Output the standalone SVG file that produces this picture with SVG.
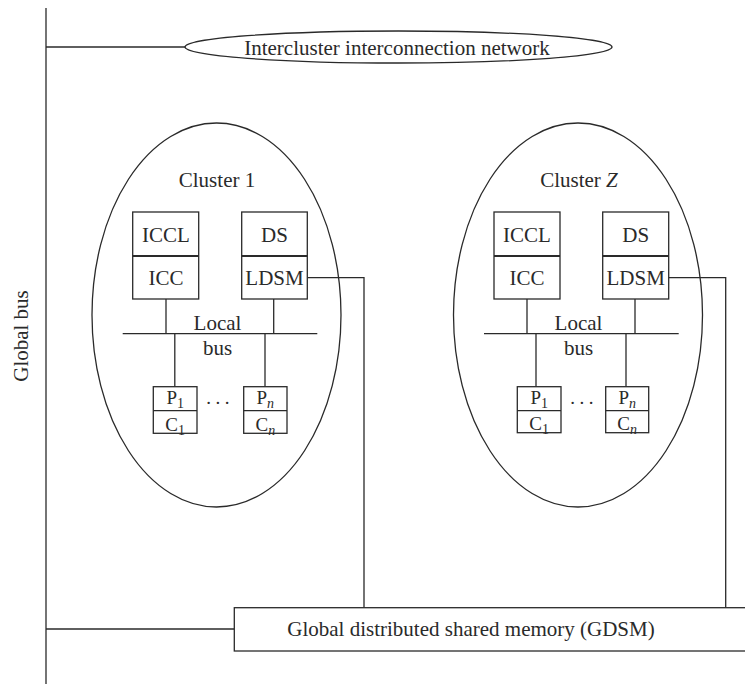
<svg xmlns="http://www.w3.org/2000/svg" width="745" height="684" viewBox="0 0 745 684" font-family="'Liberation Serif', 'Times New Roman', serif">
<style>
.ln{stroke:#2a2a2a;stroke-width:1.3;fill:none}
.bx{stroke:#2a2a2a;stroke-width:1.3;fill:#fff}
.dv{stroke:#2a2a2a;stroke-width:2.2}
text{font-family:'Liberation Serif','Times New Roman',serif;fill:#2a2a2a;text-anchor:middle}
.t20{font-size:21px}
.t18{font-size:19px}
.sub{font-size:14px}
.it{font-style:italic}
</style>
<rect width="745" height="684" fill="#fff"/>
<g id="connectors">
<line class="ln" x1="46" y1="8" x2="46" y2="684"/>
<line class="ln" x1="46" y1="47" x2="185" y2="47"/>
<line class="ln" x1="46" y1="629" x2="234" y2="629"/>
<polyline class="ln" points="307.5,277.7 364,277.7 364,607.7"/>
<polyline class="ln" points="669,277.7 725.7,277.7 725.7,607.7"/>
</g>
<g id="global-bus-label">
<text class="t20" transform="translate(28,336) rotate(-90)">Global bus</text>
</g>
<g id="intercluster">
<ellipse class="ln" cx="398.5" cy="47" rx="213.5" ry="16"/>
<text class="t20" x="397" y="55">Intercluster interconnection network</text>
</g>
<g id="cluster1">
<ellipse class="ln" cx="216.5" cy="315" rx="124.5" ry="192"/>
<text class="t20" x="217" y="187">Cluster 1</text>
<g id="c1-icc">
<rect class="bx" x="132.7" y="212" width="66" height="87"/>
<line class="dv" x1="132.7" y1="256" x2="198.7" y2="256"/>
<text class="t20" x="166" y="242">ICCL</text>
<text class="t20" x="166" y="285">ICC</text>
</g>
<g id="c1-ldsm">
<rect class="bx" x="241.7" y="212" width="65.6" height="87"/>
<line class="dv" x1="241.7" y1="256" x2="307.3" y2="256"/>
<text class="t20" x="274.5" y="242">DS</text>
<text class="t20" x="274.5" y="285">LDSM</text>
</g>
<g id="c1-bus">
<line class="ln" x1="122.7" y1="333.7" x2="317.3" y2="333.7"/>
<line class="ln" x1="166" y1="299" x2="166" y2="333.7"/>
<line class="ln" x1="273.7" y1="299" x2="273.7" y2="333.7"/>
<line class="ln" x1="174.8" y1="333.7" x2="174.8" y2="386.7"/>
<line class="ln" x1="265" y1="333.7" x2="265" y2="386.7"/>
<text class="t20" x="217.5" y="330">Local</text>
<text class="t20" x="217.5" y="355">bus</text>
</g>
<g id="c1-p1">
<rect class="bx" x="153.3" y="386.7" width="43.7" height="46.6"/>
<line class="ln" x1="153.3" y1="410.7" x2="197" y2="410.7"/>
<text class="t18" x="175.2" y="404">P<tspan class="sub" dy="4">1</tspan></text>
<text class="t18" x="175.2" y="430.5">C<tspan class="sub" dy="4">1</tspan></text>
</g>
<text class="t18" x="220" y="404" letter-spacing="4.5">...</text>
<g id="c1-pn">
<rect class="bx" x="243.7" y="386.7" width="43.3" height="46.6"/>
<line class="ln" x1="243.7" y1="410.7" x2="287" y2="410.7"/>
<text class="t18" x="265.3" y="404">P<tspan class="sub it" dy="4">n</tspan></text>
<text class="t18" x="265.3" y="430.5">C<tspan class="sub it" dy="4">n</tspan></text>
</g>
</g>
<g id="clusterZ">
<ellipse class="ln" cx="578" cy="315" rx="124.5" ry="192"/>
<text class="t20" x="579" y="187">Cluster <tspan class="it">Z</tspan></text>
<g id="cz-icc">
<rect class="bx" x="494" y="212" width="66" height="87"/>
<line class="dv" x1="494" y1="256" x2="560" y2="256"/>
<text class="t20" x="527" y="242">ICCL</text>
<text class="t20" x="527" y="285">ICC</text>
</g>
<g id="cz-ldsm">
<rect class="bx" x="602.7" y="212" width="66" height="87"/>
<line class="dv" x1="602.7" y1="256" x2="668.7" y2="256"/>
<text class="t20" x="635.7" y="242">DS</text>
<text class="t20" x="635.7" y="285">LDSM</text>
</g>
<g id="cz-bus">
<line class="ln" x1="484" y1="333.7" x2="678.7" y2="333.7"/>
<line class="ln" x1="527" y1="299" x2="527" y2="333.7"/>
<line class="ln" x1="635" y1="299" x2="635" y2="333.7"/>
<line class="ln" x1="536" y1="333.7" x2="536" y2="386.7"/>
<line class="ln" x1="626" y1="333.7" x2="626" y2="386.7"/>
<text class="t20" x="578.5" y="330">Local</text>
<text class="t20" x="578.5" y="355">bus</text>
</g>
<g id="cz-p1">
<rect class="bx" x="517.3" y="386.7" width="43.7" height="46"/>
<line class="ln" x1="517.3" y1="410.7" x2="561" y2="410.7"/>
<text class="t18" x="539.2" y="404">P<tspan class="sub" dy="4">1</tspan></text>
<text class="t18" x="539.2" y="430">C<tspan class="sub" dy="4">1</tspan></text>
</g>
<text class="t18" x="584" y="404" letter-spacing="4.5">...</text>
<g id="cz-pn">
<rect class="bx" x="605.7" y="386.7" width="43" height="46"/>
<line class="ln" x1="605.7" y1="410.7" x2="648.7" y2="410.7"/>
<text class="t18" x="627.2" y="404">P<tspan class="sub it" dy="4">n</tspan></text>
<text class="t18" x="627.2" y="430">C<tspan class="sub it" dy="4">n</tspan></text>
</g>
</g>
<g id="gdsm">
<rect class="bx" x="234.3" y="607.7" width="520" height="43.3"/>
<text class="t20" x="471" y="636">Global distributed shared memory (GDSM)</text>
</g>
</svg>
